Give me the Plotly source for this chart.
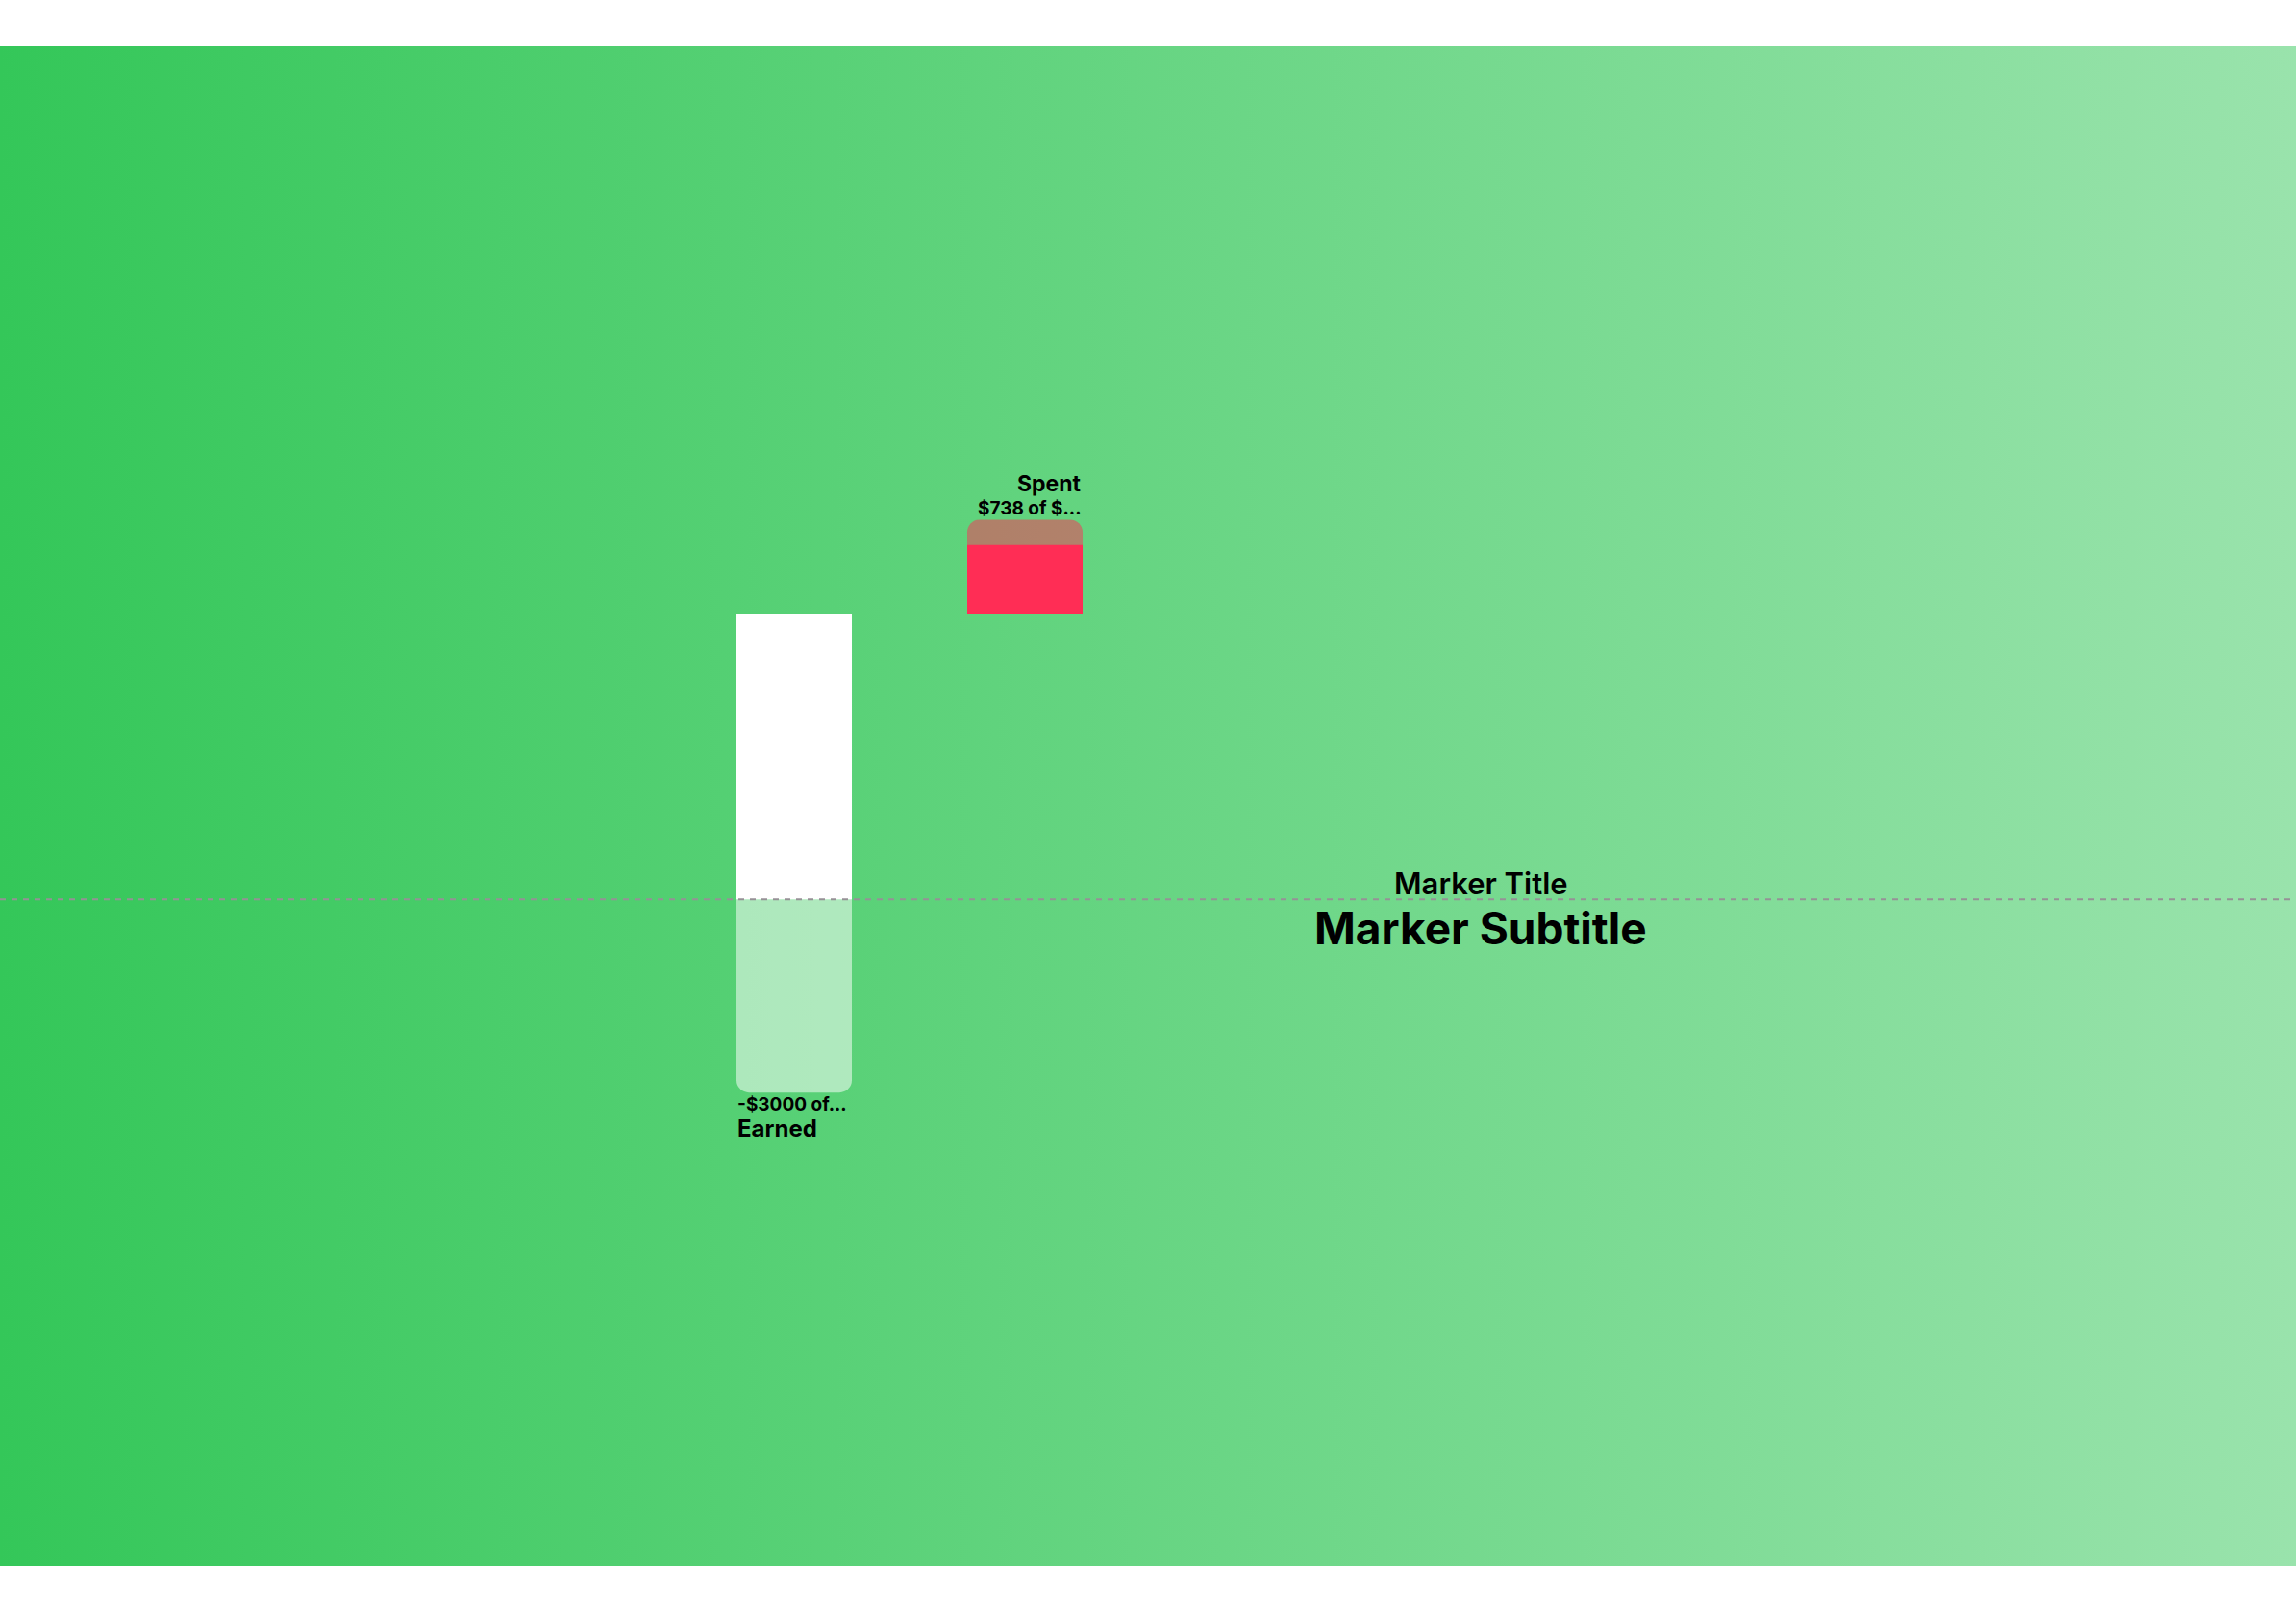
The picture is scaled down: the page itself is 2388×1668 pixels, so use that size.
import base64

import plotly.graph_objects as go

# bar data (dollars)
categories = ["Earned", "Spent"]
cat_pos = [1, 2]
earned_top = 4430
earned_amount = -3000
spent_base = 4430
spent_used = 1070
spent_total = 1460
marker_value = 0

earned_label = "-$3000 of..."
spent_label = "$738 of $..."
marker_title = "Marker Title"
marker_subtitle = "Marker Subtitle"

GREEN = "#34C759"
PINK = "#FF2D55"
FONT = "Inter"

# horizontal green gradient for the plot background
svg = (
    '<svg xmlns="http://www.w3.org/2000/svg" width="100" height="100" '
    'viewBox="0 0 100 100" preserveAspectRatio="none">'
    '<defs><linearGradient id="g" x1="0" y1="0" x2="1" y2="0">'
    '<stop offset="0" stop-color="%s"/>'
    '<stop offset="1" stop-color="%s" stop-opacity="0.5"/>'
    '</linearGradient></defs>'
    '<rect width="100" height="100" fill="url(#g)"/></svg>' % (GREEN, GREEN)
)
bg_src = "data:image/svg+xml;base64," + base64.b64encode(svg.encode()).decode()

data = []

# Earned: translucent part reaching down to -3000, white part above zero on top
data.append(go.Bar(
    x=[cat_pos[0]], y=[earned_amount - earned_top], base=earned_top, width=0.5,
    marker=dict(color="rgba(255,255,255,0.52)", line_width=0, cornerradius=13),
    name="Earned", hoverinfo="skip",
))
data.append(go.Bar(
    x=[cat_pos[0]], y=[earned_top], base=0, width=0.5,
    marker=dict(color="white", line_width=0, cornerradius=0),
    name="Earned budget", hoverinfo="skip",
))

# Spent: translucent full budget with the used part in solid pink on top
data.append(go.Bar(
    x=[cat_pos[1]], y=[spent_total], base=spent_base, width=0.5,
    marker=dict(color="rgba(255,45,85,0.5)", line_width=0, cornerradius=13),
    name="Spent budget", hoverinfo="skip",
))
data.append(go.Bar(
    x=[cat_pos[1]], y=[spent_used], base=spent_base, width=0.5,
    marker=dict(color=PINK, line_width=0, cornerradius=0),
    name="Spent", hoverinfo="skip",
))

layout = go.Layout(
    width=2388, height=1668,
    margin=dict(l=0, r=0, t=48, b=40),
    paper_bgcolor="white",
    plot_bgcolor="rgba(0,0,0,0)",
    barmode="overlay",
    showlegend=False,
    xaxis=dict(range=[-2.4417, 7.5083], visible=False, fixedrange=True),
    yaxis=dict(range=[-10340, 13240], visible=False, fixedrange=True),
    images=[dict(
        source=bg_src, xref="paper", yref="paper", x=0, y=1,
        sizex=1, sizey=1, xanchor="left", yanchor="top",
        sizing="stretch", layer="below",
    )],
    shapes=[dict(
        type="line", xref="paper", x0=0, x1=1, yref="y",
        y0=marker_value, y1=marker_value,
        line=dict(color="rgb(150,145,150)", width=2, dash="6px,6px"),
    )],
)

fig = go.Figure(data=data, layout=layout)

top_spent = spent_base + spent_total


def label(text, x, y, size, weight, xanchor, yshift, xref="x"):
    fig.add_annotation(
        text=text, x=x, y=y, xref=xref, yref="y",
        xanchor=xanchor, yanchor="middle", yshift=yshift,
        showarrow=False, borderpad=0,
        font=dict(family=FONT, size=size, weight=weight, color="black"),
    )


label(categories[1], cat_pos[1] + 0.25, top_spent, 23, 700, "right", 37)
label(spent_label, cat_pos[1] + 0.25, top_spent, 19, 700, "right", 12)
label(earned_label, cat_pos[0] - 0.25, earned_amount, 19, 700, "left", -12)
label(categories[0], cat_pos[0] - 0.25, earned_amount, 24, 700, "left", -37)
label(marker_title, 0.645, marker_value, 31, 600, "center", 17, xref="paper")
label(marker_subtitle, 0.645, marker_value, 46, 700, "center", -30, xref="paper")

# drop the default page margin so the figure sits at the window corner
fig.write_html(
    "out.html",
    config={"displayModeBar": False},
    post_script="document.body.style.margin='0';",
)
